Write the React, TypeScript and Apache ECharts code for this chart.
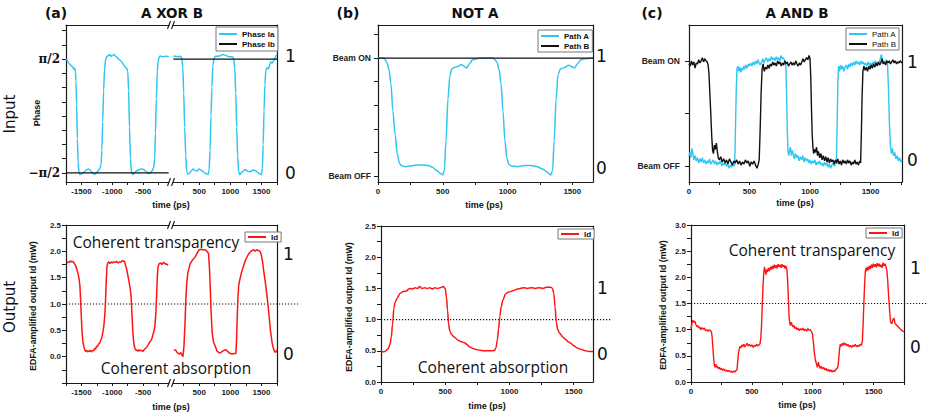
import React, { useEffect, useRef } from "react";
import * as echarts from "echarts";

// ---------------- DATA ----------------
// Panel (a) A XOR B — input phase (in units of pi/2), broken time axis
const phaseIaLeft: number[][] = [
  [-1750, 1.0], [-1735, 0.99], [-1720, 0.96], [-1700, 0.92], [-1680, 0.9], [-1660, 0.88], [-1640, 0.86], [-1622, 0.82], [-1608, 0.84], [-1597, 0.78], [-1588, 0.62], [-1578, 0.2], [-1566, -0.4], [-1553, -0.82], [-1540, -0.98], [-1525, -1.03], [-1500, -1.02], [-1470, -1.0], [-1440, -0.97], [-1410, -0.94], [-1385, -0.93], [-1360, -0.95], [-1330, -0.99], [-1300, -1.02], [-1275, -1.02], [-1250, -0.99], [-1225, -0.96], [-1200, -0.92], [-1182, -0.85], [-1168, -0.6], [-1155, -0.1], [-1140, 0.45], [-1125, 0.82], [-1110, 0.98], [-1090, 1.05], [-1065, 1.06], [-1040, 1.08], [-1015, 1.05], [-995, 1.07], [-970, 1.08], [-945, 1.05], [-920, 1.03], [-895, 1.0], [-870, 0.98], [-844, 0.95], [-815, 0.9], [-790, 0.86], [-765, 0.84], [-748, 0.78], [-735, 0.45], [-720, -0.2], [-705, -0.75], [-690, -0.98], [-670, -1.03], [-640, -1.0], [-600, -0.96], [-560, -0.94], [-520, -0.93], [-490, -0.94], [-450, -0.98], [-410, -1.01], [-380, -1.0], [-350, -0.96], [-328, -0.9], [-312, -0.75], [-300, -0.3], [-285, 0.3], [-270, 0.78], [-255, 0.98], [-235, 1.05], [-200, 1.05], [-170, 1.04], [-140, 1.05], [-110, 1.05], [-85, 1.04],
];
const phaseIaRight: number[][] = [
  [85, 1.05], [120, 1.05], [160, 1.04], [200, 1.05], [222, 1.02], [238, 0.85], [252, 0.4], [268, -0.2], [285, -0.7], [300, -0.97], [320, -1.02], [350, -1.0], [375, -0.96], [405, -0.93], [435, -0.96], [465, -0.97], [500, -0.93], [540, -0.96], [590, -1.0], [640, -1.03], [660, -0.95], [675, -0.6], [690, 0.0], [705, 0.5], [720, 0.88], [740, 1.02], [760, 1.05], [800, 1.05], [840, 1.06], [880, 1.08], [920, 1.07], [955, 1.05], [995, 1.04], [1035, 1.04], [1055, 1.0], [1072, 0.85], [1088, 0.4], [1103, -0.2], [1118, -0.7], [1133, -0.97], [1150, -1.03], [1175, -1.0], [1205, -0.97], [1240, -0.94], [1280, -0.97], [1320, -0.98], [1360, -0.95], [1400, -0.96], [1440, -0.99], [1475, -1.02], [1500, -1.03], [1515, -0.92], [1528, -0.5], [1542, 0.1], [1556, 0.55], [1570, 0.8], [1590, 0.85], [1612, 0.83], [1632, 0.9], [1652, 0.95], [1672, 0.93], [1695, 0.97], [1718, 1.02], [1745, 1.08],
];
const phaseIbLeft: number[][] = [[-1750, -1], [-85, -1]];
const phaseIbRight: number[][] = [[85, 1], [1750, 1]];

// Panel (a) output Id (mW)
const idALeft: number[][] = [
  [-1735, 1.78], [-1715, 1.8], [-1695, 1.79], [-1677, 1.82], [-1660, 1.8], [-1640, 1.81], [-1624, 1.79], [-1605, 1.75], [-1590, 1.72], [-1575, 1.66], [-1555, 1.58], [-1537, 1.47], [-1525, 1.35], [-1516, 1.15], [-1503, 0.8], [-1489, 0.45], [-1475, 0.28], [-1463, 0.2], [-1445, 0.13], [-1430, 0.1], [-1415, 0.12], [-1400, 0.09], [-1385, 0.11], [-1370, 0.1], [-1355, 0.12], [-1340, 0.09], [-1320, 0.12], [-1300, 0.11], [-1285, 0.16], [-1270, 0.14], [-1255, 0.2], [-1240, 0.19], [-1220, 0.24], [-1200, 0.27], [-1180, 0.33], [-1166, 0.38], [-1150, 0.48], [-1135, 0.6], [-1120, 0.8], [-1108, 1.1], [-1097, 1.45], [-1085, 1.72], [-1072, 1.78], [-1055, 1.8], [-1035, 1.77], [-1015, 1.8], [-995, 1.78], [-975, 1.8], [-952, 1.79], [-930, 1.81], [-905, 1.78], [-880, 1.8], [-860, 1.79], [-840, 1.82], [-820, 1.81], [-806, 1.82], [-790, 1.76], [-775, 1.7], [-763, 1.64], [-740, 1.5], [-725, 1.4], [-710, 1.3], [-695, 1.15], [-680, 0.8], [-666, 0.45], [-650, 0.25], [-634, 0.16], [-615, 0.12], [-600, 0.13], [-585, 0.1], [-565, 0.13], [-545, 0.11], [-521, 0.12], [-500, 0.1], [-480, 0.14], [-460, 0.16], [-441, 0.18], [-420, 0.22], [-400, 0.26], [-380, 0.3], [-360, 0.33], [-340, 0.42], [-320, 0.5], [-307, 0.6], [-292, 0.85], [-280, 1.2], [-268, 1.55], [-255, 1.72], [-237, 1.77], [-215, 1.78], [-195, 1.75], [-172, 1.79], [-150, 1.77], [-130, 1.76], [-110, 1.75], [-95, 1.74],
];
const idARight: number[][] = [
  [95, 0.13], [125, 0.12], [145, 0.08], [166, 0.06], [190, 0.05], [205, 0.08], [220, 0.04], [240, 0.0], [256, 0.2], [270, 0.55], [285, 1.05], [301, 1.41], [320, 1.6], [354, 1.76], [390, 1.83], [435, 1.89], [470, 1.97], [500, 2.03], [530, 2.04], [560, 2.03], [596, 2.03], [625, 2.0], [650, 1.96], [665, 1.7], [677, 1.35], [690, 0.9], [709, 0.45], [730, 0.28], [757, 0.2], [790, 0.1], [815, 0.08], [838, 0.07], [870, 0.1], [900, 0.12], [930, 0.13], [950, 0.11], [975, 0.08], [1000, 0.06], [1030, 0.05], [1060, 0.06], [1090, 0.06], [1100, 0.3], [1110, 0.7], [1122, 1.1], [1135, 1.35], [1150, 1.45], [1180, 1.6], [1214, 1.73], [1250, 1.85], [1295, 1.95], [1330, 2.0], [1375, 2.03], [1400, 2.0], [1425, 2.03], [1456, 2.01], [1480, 2.0], [1500, 1.92], [1516, 1.82], [1540, 1.6], [1564, 1.4], [1590, 1.15], [1617, 0.85], [1645, 0.5], [1672, 0.26], [1700, 0.12], [1725, 0.08], [1750, 0.13],
];

// Panel (b) NOT A
const pathAB: number[][] = [
  [0, 1.0], [40, 1.0], [54, 0.99], [70, 0.96], [85, 0.9], [100, 0.78], [115, 0.55], [132, 0.35], [150, 0.18], [165, 0.11], [180, 0.09], [210, 0.08], [250, 0.085], [300, 0.095], [350, 0.095], [390, 0.09], [420, 0.075], [450, 0.05], [480, 0.025], [500, 0.01], [512, 0.05], [525, 0.3], [540, 0.65], [555, 0.85], [570, 0.91], [590, 0.92], [620, 0.93], [645, 0.945], [665, 0.93], [685, 0.915], [705, 0.95], [730, 0.985], [765, 0.995], [800, 1.0], [880, 1.0], [900, 0.99], [920, 0.96], [935, 0.9], [950, 0.78], [965, 0.55], [980, 0.3], [995, 0.15], [1010, 0.1], [1030, 0.085], [1080, 0.08], [1130, 0.09], [1180, 0.09], [1230, 0.08], [1270, 0.06], [1300, 0.04], [1320, 0.02], [1335, 0.01], [1348, 0.05], [1360, 0.3], [1375, 0.65], [1390, 0.86], [1410, 0.91], [1440, 0.92], [1470, 0.94], [1490, 0.93], [1515, 0.915], [1540, 0.95], [1565, 0.985], [1600, 0.995], [1660, 1.0],
];
const pathBB: number[][] = [[0, 1], [1660, 1]];
const idB: number[][] = [
  [0, 0.48], [30, 0.49], [55, 0.53], [70, 0.6], [80, 0.72], [90, 0.92], [100, 1.18], [110, 1.28], [125, 1.34], [148, 1.42], [172, 1.45], [200, 1.46], [215, 1.49], [230, 1.5], [245, 1.49], [265, 1.51], [285, 1.5], [300, 1.53], [320, 1.5], [340, 1.51], [360, 1.5], [380, 1.51], [400, 1.49], [420, 1.51], [440, 1.5], [460, 1.51], [484, 1.53], [500, 1.5], [510, 1.35], [518, 1.15], [526, 0.93], [535, 0.82], [550, 0.76], [570, 0.72], [600, 0.67], [620, 0.65], [650, 0.63], [670, 0.6], [690, 0.56], [711, 0.54], [740, 0.52], [770, 0.51], [800, 0.5], [840, 0.5], [870, 0.5], [885, 0.51], [895, 0.55], [906, 0.68], [915, 0.85], [925, 1.05], [935, 1.2], [950, 1.32], [969, 1.41], [990, 1.44], [1008, 1.45], [1035, 1.47], [1063, 1.49], [1085, 1.5], [1109, 1.51], [1140, 1.5], [1170, 1.51], [1200, 1.5], [1230, 1.51], [1260, 1.5], [1290, 1.52], [1320, 1.52], [1335, 1.5], [1345, 1.42], [1355, 1.2], [1365, 0.95], [1375, 0.84], [1391, 0.78], [1415, 0.72], [1437, 0.68], [1460, 0.64], [1477, 0.62], [1500, 0.58], [1531, 0.54], [1560, 0.52], [1590, 0.5], [1620, 0.49], [1650, 0.49],
];

// Panel (c) A AND B
const pathAC: number[][] = [
  [0, 0.1], [8, 0.13], [16, 0.08], [24, 0.17], [32, 0.12], [40, 0.06], [50, 0.1], [60, 0.05], [70, 0.08], [80, 0.03], [90, 0.07], [100, 0.04], [110, 0.08], [120, 0.03], [130, 0.06], [140, 0.02], [150, 0.05], [160, 0.03], [170, 0.07], [180, 0.02], [190, 0.04], [200, 0.06], [210, 0.02], [220, 0.05], [230, 0.01], [240, 0.04], [250, 0.02], [260, 0.05], [270, 0.0], [280, 0.03], [290, 0.01], [300, 0.04], [310, 0.0], [320, 0.02], [330, -0.02], [340, 0.01], [350, -0.01], [360, 0.02], [370, 0.0], [378, 0.02],
  [384, 0.35], [390, 0.7], [396, 0.92], [404, 0.95], [412, 0.9], [420, 0.94], [428, 0.89], [436, 0.93], [444, 0.91], [452, 0.95], [460, 0.92], [470, 0.96], [480, 0.93], [490, 0.97], [500, 0.95], [510, 0.98], [520, 0.95], [530, 0.99], [540, 0.96], [550, 1.0], [560, 0.97], [570, 1.01], [580, 0.98], [590, 0.96], [600, 0.99], [610, 1.02], [620, 0.98], [630, 1.01], [640, 1.03], [650, 0.99], [660, 1.02], [670, 1.0], [680, 1.04], [690, 1.01], [700, 1.03], [710, 1.0], [720, 1.04], [730, 1.01], [740, 1.03], [750, 1.0], [760, 1.05], [770, 1.02], [780, 1.03], [790, 1.0], [800, 0.96],
  [806, 0.7], [812, 0.35], [818, 0.15], [824, 0.1], [830, 0.14], [838, 0.18], [846, 0.1], [854, 0.15], [862, 0.11], [870, 0.07], [880, 0.12], [890, 0.08], [900, 0.1], [910, 0.05], [920, 0.09], [930, 0.06], [940, 0.1], [950, 0.04], [960, 0.08], [970, 0.05], [980, 0.07], [990, 0.03], [1000, 0.06], [1010, 0.02], [1020, 0.05], [1030, 0.03], [1040, 0.06], [1050, 0.01], [1060, 0.04], [1070, 0.02], [1080, 0.05], [1090, 0.01], [1100, 0.03], [1110, 0.0], [1120, 0.04], [1130, 0.01], [1140, 0.03], [1150, -0.01], [1160, 0.02], [1170, -0.02], [1180, 0.01], [1190, 0.03], [1200, 0.0], [1210, 0.03], [1218, 0.02],
  [1224, 0.4], [1230, 0.8], [1236, 0.95], [1244, 0.9], [1252, 0.96], [1260, 0.92], [1270, 0.95], [1280, 0.9], [1290, 0.94], [1300, 0.96], [1310, 0.92], [1320, 0.97], [1330, 0.94], [1340, 0.98], [1350, 0.95], [1360, 0.99], [1370, 0.96], [1380, 1.0], [1390, 0.97], [1400, 0.99], [1410, 0.96], [1420, 1.0], [1430, 0.97], [1440, 0.99], [1450, 0.96], [1460, 0.98], [1470, 0.95], [1480, 0.99], [1490, 0.96], [1500, 0.98], [1510, 0.95], [1520, 0.99], [1530, 0.97], [1540, 1.0], [1550, 0.96], [1560, 0.99], [1570, 0.97], [1580, 1.02], [1590, 1.06], [1600, 0.98], [1610, 1.0], [1620, 0.97], [1630, 1.01], [1640, 0.97],
  [1648, 0.75], [1656, 0.4], [1664, 0.2], [1672, 0.12], [1680, 0.17], [1690, 0.1], [1700, 0.13], [1710, 0.07], [1720, 0.1], [1730, 0.05], [1740, 0.08], [1750, 0.04], [1760, 0.06],
];
const pathBC: number[][] = [
  [0, 0.97], [10, 0.95], [20, 1.0], [30, 0.96], [40, 0.99], [50, 0.93], [60, 0.98], [70, 0.97], [80, 1.01], [90, 0.98], [100, 1.0], [110, 1.03], [120, 0.99], [130, 1.02], [140, 1.0], [150, 0.99], [158, 0.96],
  [165, 0.88], [172, 0.7], [180, 0.5], [188, 0.28], [195, 0.15], [202, 0.12], [210, 0.2], [218, 0.16], [226, 0.22], [234, 0.14], [242, 0.08], [250, 0.06], [262, 0.09], [274, 0.04], [286, 0.07], [298, 0.03], [310, 0.06], [322, 0.02], [334, 0.07], [346, 0.04], [358, 0.01], [370, 0.05], [382, 0.03], [394, 0.06], [406, 0.02], [418, 0.05], [430, 0.01], [442, 0.04], [454, 0.02], [466, 0.06], [478, 0.03], [490, 0.05], [502, 0.0], [514, 0.04], [526, 0.02], [538, 0.05], [550, 0.01], [562, -0.02], [572, 0.02], [580, 0.06],
  [588, 0.35], [596, 0.7], [604, 0.92], [612, 0.97], [622, 0.9], [632, 0.94], [642, 0.92], [652, 0.96], [662, 0.93], [672, 0.97], [682, 0.95], [692, 0.99], [702, 0.96], [712, 0.98], [722, 0.95], [732, 1.0], [742, 0.97], [752, 0.99], [762, 0.95], [772, 0.98], [782, 0.96], [792, 1.0], [802, 0.97], [812, 0.99], [822, 0.95], [832, 0.97], [842, 0.99], [852, 0.96], [862, 0.98], [872, 0.96], [882, 1.0], [892, 0.97], [902, 0.95], [912, 0.98], [922, 0.96], [932, 0.99], [942, 1.02], [952, 0.99], [962, 1.01], [972, 1.03], [982, 1.01], [992, 1.05], [1000, 1.02],
  [1006, 0.85], [1012, 0.55], [1018, 0.3], [1024, 0.18], [1030, 0.12], [1038, 0.16], [1046, 0.13], [1054, 0.18], [1062, 0.1], [1070, 0.14], [1080, 0.08], [1090, 0.12], [1100, 0.06], [1110, 0.1], [1120, 0.05], [1130, 0.09], [1140, 0.04], [1150, 0.08], [1160, 0.03], [1170, 0.07], [1180, 0.04], [1190, 0.06], [1200, 0.02], [1210, 0.06], [1220, 0.03], [1230, 0.07], [1240, 0.02], [1250, 0.05], [1260, 0.01], [1270, 0.06], [1280, 0.03], [1290, 0.05], [1300, 0.02], [1310, 0.06], [1320, 0.03], [1330, 0.05], [1340, 0.01], [1350, 0.04], [1360, 0.02], [1370, 0.06], [1380, 0.02], [1390, 0.04], [1400, 0.01], [1410, 0.05], [1418, 0.03],
  [1424, 0.3], [1430, 0.65], [1437, 0.9], [1445, 0.95], [1455, 0.91], [1465, 0.94], [1475, 0.9], [1485, 0.95], [1495, 0.92], [1505, 0.96], [1515, 0.93], [1525, 0.97], [1535, 0.94], [1545, 0.98], [1555, 0.95], [1565, 0.99], [1575, 0.96], [1585, 0.98], [1595, 1.02], [1605, 0.97], [1615, 0.99], [1625, 0.96], [1635, 1.0], [1645, 0.98], [1655, 1.0], [1665, 0.97], [1675, 0.99], [1685, 1.01], [1695, 0.98], [1705, 1.0], [1715, 0.97], [1725, 0.99], [1735, 0.98], [1745, 1.0], [1760, 0.98],
];
const idC: number[][] = [
  [0, 1.02], [8, 1.12], [16, 1.18], [24, 1.14], [32, 1.16], [40, 1.1], [48, 1.06], [56, 1.08], [64, 1.03], [72, 1.05], [80, 1.0], [90, 1.04], [100, 1.01], [110, 1.03], [120, 0.98], [130, 1.0], [140, 0.97], [150, 1.0], [160, 0.98], [168, 0.96], [174, 0.85], [180, 0.65], [186, 0.45], [192, 0.32], [198, 0.28], [204, 0.34], [210, 0.28], [218, 0.3], [226, 0.25], [234, 0.28], [242, 0.24], [250, 0.26], [260, 0.22], [270, 0.25], [280, 0.21], [290, 0.23], [300, 0.2], [310, 0.22], [320, 0.19], [330, 0.21], [340, 0.18], [350, 0.21], [360, 0.19], [370, 0.22], [378, 0.23], [384, 0.4], [390, 0.55], [396, 0.62], [402, 0.68], [410, 0.65], [418, 0.71], [426, 0.68], [434, 0.72], [442, 0.67], [450, 0.7], [460, 0.74], [470, 0.69], [480, 0.72], [490, 0.68], [500, 0.71], [510, 0.66], [520, 0.7], [530, 0.68], [540, 0.72], [550, 0.69], [560, 0.71], [568, 0.74], [574, 0.85], [580, 1.1], [586, 1.5], [592, 1.85], [598, 2.1], [604, 2.2], [610, 2.12], [616, 2.05], [622, 2.15], [628, 2.1], [636, 2.18], [644, 2.12], [652, 2.2], [660, 2.15], [668, 2.22], [676, 2.16], [684, 2.24], [692, 2.18], [700, 2.23], [708, 2.17], [716, 2.25], [724, 2.2], [732, 2.24], [740, 2.18], [748, 2.25], [756, 2.2], [764, 2.23], [772, 2.17], [780, 2.22], [788, 2.15], [794, 1.95], [800, 1.6], [806, 1.25], [812, 1.12], [818, 1.08], [824, 1.14], [830, 1.1], [838, 1.05], [846, 1.08], [854, 1.02], [862, 1.05], [870, 1.0], [880, 1.03], [890, 0.98], [900, 1.02], [910, 0.99], [920, 1.03], [930, 0.98], [940, 1.01], [950, 0.97], [960, 1.02], [970, 0.99], [980, 1.0], [990, 0.96], [998, 0.92], [1006, 0.75], [1014, 0.55], [1022, 0.42], [1030, 0.35], [1038, 0.28], [1046, 0.38], [1054, 0.3], [1062, 0.26], [1070, 0.3], [1080, 0.25], [1090, 0.28], [1100, 0.23], [1110, 0.26], [1120, 0.21], [1130, 0.24], [1140, 0.2], [1150, 0.23], [1160, 0.19], [1170, 0.22], [1180, 0.2], [1190, 0.24], [1200, 0.26], [1208, 0.3], [1214, 0.45], [1220, 0.62], [1226, 0.72], [1234, 0.68], [1242, 0.74], [1250, 0.7], [1258, 0.75], [1266, 0.71], [1274, 0.73], [1282, 0.69], [1290, 0.72], [1300, 0.67], [1310, 0.7], [1320, 0.66], [1330, 0.7], [1340, 0.68], [1350, 0.72], [1360, 0.67], [1370, 0.7], [1380, 0.68], [1390, 0.72], [1400, 0.7], [1408, 0.78], [1414, 1.1], [1420, 1.5], [1426, 1.85], [1432, 2.1], [1438, 2.18], [1444, 2.12], [1450, 2.2], [1458, 2.14], [1466, 2.22], [1474, 2.16], [1482, 2.24], [1490, 2.18], [1498, 2.26], [1506, 2.2], [1514, 2.25], [1522, 2.19], [1530, 2.27], [1538, 2.21], [1546, 2.26], [1554, 2.2], [1562, 2.24], [1570, 2.18], [1578, 2.28], [1586, 2.22], [1594, 2.26], [1602, 2.2], [1610, 2.12], [1616, 1.95], [1622, 1.7], [1628, 1.5], [1634, 1.3], [1640, 1.15], [1646, 1.12], [1652, 1.12], [1660, 1.2], [1668, 1.22], [1676, 1.12], [1684, 1.1], [1692, 1.08], [1700, 1.06], [1708, 1.04], [1716, 1.02], [1724, 1.0], [1732, 0.99], [1740, 0.97], [1748, 0.96],
];

// thresholds (dotted lines)
const thresholdA = 1.0;
const thresholdB = 1.0;
const thresholdC = 1.5;

// ticks and labels
const xTicksALeft = [-1750, -1500, -1250, -1000, -750, -500, -250];
const xLabelsALeft = [-1500, -1000, -500];
const xTicksARight = [250, 500, 750, 1000, 1250, 1500, 1750];
const xLabelsARight = [500, 1000, 1500];
const xTicks = [0, 250, 500, 750, 1000, 1250, 1500, 1750];
const xLabels = [0, 500, 1000, 1500];
const yTicksPhase = [-1, -0.75, -0.5, -0.25, 0, 0.25, 0.5, 0.75, 1, 1.25, 1.5];
const yLabelsPhase = [-1, 1];
const yTicksBeamB = [0, 0.2, 0.4, 0.6, 0.8, 1, 1.2];
const yTicksBeamC = [0, 0.5, 1];
const yLabelsBeam = [0, 1];
const yTicksIdA = [-0.5, -0.25, 0, 0.25, 0.5, 0.75, 1, 1.25, 1.5, 1.75, 2, 2.25, 2.5];
const yLabelsIdA = [0, 0.5, 1, 1.5, 2, 2.5];
const yTicksIdB = [0, 0.25, 0.5, 0.75, 1, 1.25, 1.5, 1.75, 2, 2.25, 2.5];
const yLabelsIdB = [0, 0.5, 1, 1.5, 2, 2.5];
const yTicksIdC = [0, 0.25, 0.5, 0.75, 1, 1.25, 1.5, 1.75, 2, 2.25, 2.5, 2.75, 3];
const yLabelsIdC = [0, 0.5, 1, 1.5, 2, 2.5, 3];

// logic-level markers on the right ([level "1" value, level "0" value])
const levelsATop = [1.05, -1];
const levelsABot = [1.95, 0.05];
const levelsBTop = [1.02, 0.07];
const levelsBBot = [1.5, 0.45];
const levelsCTop = [0.99, 0.06];
const levelsCBot = [2.18, 0.67];

// ---------------- STYLE ----------------
const CYAN = "#2ec6f3";
const RED = "#ff1414";
const BLACK = "#111111";
const AXIS = "#1a1a1a";
const TICKFONT = "Liberation Sans";
const HUMAN = "Open Sans";
const VERD = "DejaVu Sans";

function buildOption() {
  const grid: any[] = [];
  const xAxis: any[] = [];
  const yAxis: any[] = [];
  const series: any[] = [];
  const graphic: any[] = [];

  const addGrid = (left: number, top: number, width: number, height: number) => {
    grid.push({ left, top, width, height, containLabel: false, outerBoundsMode: "none", show: false });
    return grid.length - 1;
  };
  const lineStyle = { color: AXIS, width: 1.2 };
  const tickLabel = { fontFamily: TICKFONT, fontWeight: "bold", fontSize: 8, color: "#222" };

  const addX = (g: number, min: number, max: number, ticks: number[], labels: number[]) => {
    xAxis.push({
      type: "value", gridIndex: g, min, max, position: "bottom",
      axisLine: { show: true, onZero: false, lineStyle },
      axisTick: { show: true, customValues: ticks, length: 3, lineStyle: { color: AXIS, width: 1 } },
      axisLabel: { show: true, customValues: labels, margin: 5, ...tickLabel, formatter: (v: number) => String(v) },
      splitLine: { show: false },
    });
    const idx = xAxis.length - 1;
    xAxis.push({
      type: "value", gridIndex: g, min, max, position: "top",
      axisLine: { show: true, onZero: false, lineStyle },
      axisTick: { show: false }, axisLabel: { show: false }, splitLine: { show: false },
    });
    return idx;
  };
  const addYLeft = (g: number, min: number, max: number, ticks: number[], labels: number[], fmt: (v: number) => string, margin: number, font?: any, show = true) => {
    yAxis.push({
      type: "value", gridIndex: g, min, max, position: "left", show,
      axisLine: { show: true, onZero: false, lineStyle },
      axisTick: { show: true, customValues: ticks, length: 4, lineStyle: { color: AXIS, width: 1 } },
      axisLabel: { show: true, customValues: labels, margin, ...(font || tickLabel), formatter: fmt },
      splitLine: { show: false },
    });
    return yAxis.length - 1;
  };
  const addYRight = (g: number, min: number, max: number, levels: number[], margin: number) => {
    const mid = (levels[0] + levels[1]) / 2;
    yAxis.push({
      type: "value", gridIndex: g, min, max, position: "right",
      axisLine: { show: true, onZero: false, lineStyle },
      axisTick: { show: false },
      axisLabel: {
        show: true, customValues: levels, margin, fontFamily: VERD, fontSize: 17, color: "#111",
        formatter: (v: number) => (v > mid ? "1" : "0"),
      },
      splitLine: { show: false },
    });
    return yAxis.length - 1;
  };
  const addLine = (name: string, data: number[][], color: string, xi: number, yi: number, width: number, smooth: any = false) => {
    series.push({
      type: "line", name, data, xAxisIndex: xi, yAxisIndex: yi, color,
      showSymbol: false, symbol: "none", smooth, smoothMonotone: smooth ? "x" : undefined,
      lineStyle: { color, width }, itemStyle: { color }, animation: false, silent: true,
    });
  };
  const addDotted = (left: number, top: number, width: number, height: number, min: number, max: number, value: number) => {
    const g = addGrid(left, top, width, height);
    xAxis.push({ type: "value", gridIndex: g, min: 0, max: 1, show: false });
    yAxis.push({ type: "value", gridIndex: g, min, max, show: false });
    series.push({
      type: "line", name: "threshold", data: [[0, value], [1, value]],
      xAxisIndex: xAxis.length - 1, yAxisIndex: yAxis.length - 1,
      showSymbol: false, symbol: "none", color: BLACK,
      lineStyle: { color: BLACK, width: 1.1, type: [1.2, 1.8] }, animation: false, silent: true,
    });
  };
  const text = (t: string, x: number, y: number, size: number, family: string, weight = "normal", rot = 0, align = "center") => {
    graphic.push({
      type: "text", x, y, rotation: rot, silent: true,
      style: {
        text: t, fontSize: size, fontFamily: family, fontWeight: weight, fill: "#111",
        align, verticalAlign: "middle", textAlign: align, textVerticalAlign: "middle",
      },
    });
  };
  const breakMark = (xc: number, yc: number) => {
    [[-3.5, -0.5], [0.5, 3.5]].forEach(([a, b]) => {
      graphic.push({ type: "line", silent: true, shape: { x1: xc + a, y1: yc + 4, x2: xc + b, y2: yc - 4 }, style: { stroke: AXIS, lineWidth: 1.1 } });
    });
  };

  const piFont = { fontFamily: "DejaVu Serif", fontWeight: "bold", fontSize: 12, color: "#111" };
  const beamFont = { fontFamily: TICKFONT, fontWeight: "bold", fontSize: 8.5, color: "#222" };
  const fmt1 = (v: number) => v.toFixed(1);

  // ---- (a) top
  const aTopMin = -1.16, aTopMax = 1.6;
  const gAL = addGrid(66, 25, 103, 157);
  const gAR = addGrid(173, 25, 104, 157);
  const xAL = addX(gAL, -1750, -80, xTicksALeft, xLabelsALeft);
  const xAR = addX(gAR, 80, 1750, xTicksARight, xLabelsARight);
  const yAL = addYLeft(gAL, aTopMin, aTopMax, yTicksPhase, yLabelsPhase, (v) => (v > 0 ? "π/2" : "−π/2"), 6, piFont);
  const yAR = addYLeft(gAR, aTopMin, aTopMax, [], [], () => "", 6, undefined, false);
  addYRight(gAR, aTopMin, aTopMax, levelsATop, 8);
  addLine("Phase Ia", phaseIaLeft, CYAN, xAL, yAL, 1.5, 0.25);
  addLine("Phase Ib", phaseIbLeft, BLACK, xAL, yAL, 1.2);
  addLine("Phase Ia", phaseIaRight, CYAN, xAR, yAR, 1.5, 0.25);
  addLine("Phase Ib", phaseIbRight, BLACK, xAR, yAR, 1.2);

  // ---- (a) bottom
  const aBotMin = -0.5, aBotMax = 2.5;
  const gBL = addGrid(66, 225, 103, 158);
  const gBR = addGrid(173, 225, 104, 158);
  const xBL = addX(gBL, -1750, -80, xTicksALeft, xLabelsALeft);
  const xBR = addX(gBR, 80, 1750, xTicksARight, xLabelsARight);
  const yBL = addYLeft(gBL, aBotMin, aBotMax, yTicksIdA, yLabelsIdA, fmt1, 5);
  const yBR = addYLeft(gBR, aBotMin, aBotMax, [], [], () => "", 5, undefined, false);
  addYRight(gBR, aBotMin, aBotMax, levelsABot, 6);
  addDotted(66, 225, 232, 158, aBotMin, aBotMax, thresholdA);
  addLine("Id", idALeft, RED, xBL, yBL, 1.5);
  addLine("Id", idARight, RED, xBR, yBR, 1.5);

  // ---- (b) top
  const bTopMin = -0.05, bTopMax = 1.28;
  const gB1 = addGrid(378, 25, 215, 157);
  const xB1 = addX(gB1, 0, 1660, xTicks, xLabels);
  const yB1 = addYLeft(gB1, bTopMin, bTopMax, yTicksBeamB, yLabelsBeam, (v) => (v > 0.5 ? "Beam ON" : "Beam OFF"), 7, beamFont);
  addYRight(gB1, bTopMin, bTopMax, levelsBTop, 3);
  addLine("Path A", pathAB, CYAN, xB1, yB1, 1.5, 0.3);
  addLine("Path B", pathBB, BLACK, xB1, yB1, 1.2);

  // ---- (b) bottom
  const bBotMin = 0, bBotMax = 2.5;
  const gB2 = addGrid(381, 226, 212, 156);
  const xB2 = addX(gB2, 0, 1650, xTicks, xLabels);
  const yB2 = addYLeft(gB2, bBotMin, bBotMax, yTicksIdB, yLabelsIdB, fmt1, 5);
  addYRight(gB2, bBotMin, bBotMax, levelsBBot, 4);
  addDotted(381, 226, 231, 156, bBotMin, bBotMax, thresholdB);
  addLine("Id", idB, RED, xB2, yB2, 1.5, 0.3);

  // ---- (c) top
  const cTopMin = -0.15, cTopMax = 1.34;
  const gC1 = addGrid(689, 25, 213, 157);
  const xC1 = addX(gC1, 0, 1760, xTicks, xLabels);
  const yC1 = addYLeft(gC1, cTopMin, cTopMax, yTicksBeamC, yLabelsBeam, (v) => (v > 0.5 ? "Beam ON" : "Beam OFF"), 9, beamFont);
  addYRight(gC1, cTopMin, cTopMax, levelsCTop, 5);
  addLine("Path A", pathAC, CYAN, xC1, yC1, 1.4);
  addLine("Path B", pathBC, BLACK, xC1, yC1, 1.4);

  // ---- (c) bottom
  const cBotMin = 0, cBotMax = 3;
  const gC2 = addGrid(691, 225, 213, 157);
  const xC2 = addX(gC2, 0, 1750, xTicks, xLabels);
  const yC2 = addYLeft(gC2, cBotMin, cBotMax, yTicksIdC, yLabelsIdC, fmt1, 5);
  addYRight(gC2, cBotMin, cBotMax, levelsCBot, 6);
  addDotted(691, 225, 236, 157, cBotMin, cBotMax, thresholdC);
  addLine("Id", idC, RED, xC2, yC2, 1.4);

  // ---- texts
  const R = Math.PI / 2;
  text("(a)", 56, 13, 14, VERD, "bold");
  text("A XOR B", 172, 13, 13.5, VERD, "bold");
  text("(b)", 348, 13, 14, VERD, "bold");
  text("NOT A", 475, 13, 13.5, VERD, "bold");
  text("(c)", 652, 13, 14, VERD, "bold");
  text("A AND B", 797, 13, 13.5, VERD, "bold");
  text("Input", 10, 114, 15, VERD, "normal", R);
  text("Output", 10, 307, 15, VERD, "normal", R);
  text("Phase", 37, 113, 9, TICKFONT, "bold", R);
  text("EDFA-amplified output Id (mW)", 33, 306, 8.8, TICKFONT, "bold", R);
  text("EDFA-amplified output Id (mW)", 349, 307, 8.8, TICKFONT, "bold", R);
  text("EDFA-amplified output Id (mW)", 663, 305, 8.8, TICKFONT, "bold", R);
  text("time (ps)", 171, 205, 9, TICKFONT, "bold");
  text("time (ps)", 171, 407, 9, TICKFONT, "bold");
  text("time (ps)", 484, 205, 9, TICKFONT, "bold");
  text("time (ps)", 487, 406, 9, TICKFONT, "bold");
  text("time (ps)", 795, 203, 9, TICKFONT, "bold");
  text("time (ps)", 797, 405, 9, TICKFONT, "bold");
  text("Coherent transparency", 156, 242, 15.5, HUMAN);
  text("Coherent absorption", 176, 368, 15.5, HUMAN);
  text("Coherent absorption", 493, 367, 15.5, HUMAN);
  text("Coherent transparency", 812, 250, 15.5, HUMAN);
  breakMark(171, 25);
  breakMark(171, 182);
  breakMark(171, 225);
  breakMark(171, 383);

  const legendBase = {
    orient: "vertical", icon: "rect", itemWidth: 18, itemHeight: 2, itemGap: 2,
    borderColor: "#777", borderWidth: 1, backgroundColor: "#fff",
    textStyle: { fontFamily: TICKFONT, fontWeight: "bold", fontSize: 8, color: "#111" },
    selectedMode: false,
  };
  const legend = [
    { ...legendBase, data: ["Phase Ia", "Phase Ib"], left: 216, top: 27, padding: [3, 3, 3, 3] },
    { ...legendBase, data: ["Id"], left: 245, top: 232, padding: [1, 3, 1, 3] },
    { ...legendBase, data: ["Path A", "Path B"], left: 538, top: 30, padding: [2, 3, 2, 3] },
    { ...legendBase, data: ["Id"], left: 558, top: 229, padding: [1, 3, 1, 3] },
    { ...legendBase, data: ["Path A", "Path B"], left: 846, top: 28, padding: [2, 3, 2, 3], textStyle: { ...legendBase.textStyle, fontWeight: "normal" } },
    { ...legendBase, data: ["Id"], left: 866, top: 228, padding: [1, 3, 1, 3] },
  ];

  return { animation: false, backgroundColor: "#fff", grid, xAxis, yAxis, series, legend, graphic, tooltip: { show: false } };
}

export default function App() {
  const ref = useRef<HTMLDivElement>(null);
  useEffect(() => {
    document.body.style.margin = "0";
    if (!ref.current) return;
    const chart = echarts.init(ref.current, null, { renderer: "svg" });
    chart.setOption(buildOption() as any);
    return () => chart.dispose();
  }, []);
  return (
    <div style={{ position: "absolute", left: 0, top: 0, width: 927, height: 418, overflow: "hidden" }}>
      <div ref={ref} style={{ width: 927, height: 418, background: "#fff" }} />
    </div>
  );
}
